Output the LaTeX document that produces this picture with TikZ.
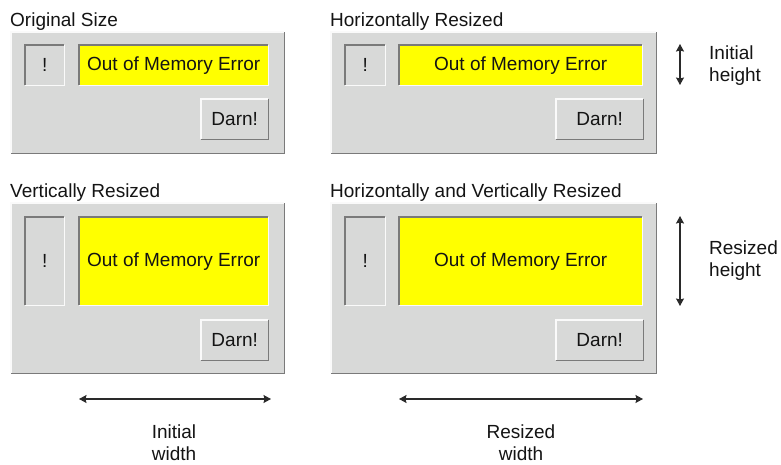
\documentclass[tikz,border=0pt]{standalone}
\usepackage{fontspec}
\setmainfont{Liberation Sans}
\usetikzlibrary{arrows.meta}
\definecolor{panelgray}{HTML}{D8D9D8}
\definecolor{bevdark}{HTML}{7A7A7A}
\definecolor{bevlight}{HTML}{FAFAFA}
\definecolor{txt}{HTML}{141414}
\definecolor{arrowc}{HTML}{2A2A2A}
\definecolor{msgyellow}{HTML}{FFFF00}
\newcommand\raisedbevel[1]{%
  \draw[bevlight,line width=1.2pt] (#1.south west) |- (#1.north east);
  \draw[bevdark,line width=1.6pt] (#1.north east) |- (#1.south west);}
\newcommand\sunkenbevel[1]{%
  \draw[bevlight,line width=1.2pt] (#1.north east) |- (#1.south west);
  \draw[bevdark,line width=1.6pt] (#1.south west) |- (#1.north east);}
\begin{document}
\begin{tikzpicture}[x=1pt,y=-1pt,
  every node/.style={font=\fontsize{19}{22}\selectfont,text=txt,inner sep=0pt},
  panelbox/.style={fill=panelgray,anchor=north west},
  bangbox/.style={fill=panelgray,anchor=north west},
  msgbox/.style={fill=msgyellow,anchor=north west},
  btnbox/.style={fill=panelgray,anchor=north west},
  titletext/.style={anchor=base west},
  dimarrow/.style={arrowc,line width=1.1pt,{Stealth[length=7.5pt,width=8pt,inset=1pt]}-{Stealth[length=7.5pt,width=8pt,inset=1pt]}},
  dimtext/.style={align=left,anchor=west},
  dimtextc/.style={align=center,anchor=north}]
\useasboundingbox[fill=white] (0,0) rectangle (781,464);

% ---------- Titles
\node[titletext] (t1) at (10,26) {Original Size};
\node[titletext] (t2) at (330,26) {Horizontally Resized};
\node[titletext] (t3) at (10,197) {Vertically Resized};
\node[titletext] (t4) at (330,197) {Horizontally and Vertically Resized};

% ---------- Panel 1: original
\node[panelbox,minimum width=273pt,minimum height=121pt] (p1) at (11,32) {};
\raisedbevel{p1}
\node[bangbox,minimum width=39pt,minimum height=40pt] (b1) at (25,45) {!};
\sunkenbevel{b1}
\node[msgbox,minimum width=189pt,minimum height=40pt] (m1) at (79,45) {Out of Memory Error};
\sunkenbevel{m1}
\node[btnbox,minimum width=67pt,minimum height=40pt] (d1) at (201,99) {Darn!};
\raisedbevel{d1}

% ---------- Panel 2: horizontally resized
\node[panelbox,minimum width=325pt,minimum height=121pt] (p2) at (331,32) {};
\raisedbevel{p2}
\node[bangbox,minimum width=40pt,minimum height=40pt] (b2) at (345,45) {!};
\sunkenbevel{b2}
\node[msgbox,minimum width=243pt,minimum height=40pt] (m2) at (399,45) {Out of Memory Error};
\sunkenbevel{m2}
\node[btnbox,minimum width=87pt,minimum height=40pt] (d2) at (556,99) {Darn!};
\raisedbevel{d2}

% ---------- Panel 3: vertically resized
\node[panelbox,minimum width=273pt,minimum height=170pt] (p3) at (11,203) {};
\raisedbevel{p3}
\node[bangbox,minimum width=39pt,minimum height=88pt] (b3) at (25,217) {!};
\sunkenbevel{b3}
\node[msgbox,minimum width=189pt,minimum height=88pt] (m3) at (79,217) {Out of Memory Error};
\sunkenbevel{m3}
\node[btnbox,minimum width=67pt,minimum height=40pt] (d3) at (201,320) {Darn!};
\raisedbevel{d3}

% ---------- Panel 4: both resized
\node[panelbox,minimum width=325pt,minimum height=170pt] (p4) at (331,203) {};
\raisedbevel{p4}
\node[bangbox,minimum width=40pt,minimum height=88pt] (b4) at (345,217) {!};
\sunkenbevel{b4}
\node[msgbox,minimum width=243pt,minimum height=88pt] (m4) at (399,217) {Out of Memory Error};
\sunkenbevel{m4}
\node[btnbox,minimum width=87pt,minimum height=40pt] (d4) at (556,320) {Darn!};
\raisedbevel{d4}

% ---------- Dimension arrows
\coordinate (ih1) at (680,44);
\coordinate (ih2) at (680,85);
\draw[dimarrow] (ih1) -- (ih2);
\node[dimtext] (iht) at (709,66) {Initial\\height};

\coordinate (rh1) at (680,216);
\coordinate (rh2) at (680,306);
\draw[dimarrow] (rh1) -- (rh2);
\node[dimtext] (rht) at (709,261) {Resized\\height};

\coordinate (iw1) at (79,399);
\coordinate (iw2) at (271,399);
\draw[dimarrow] (iw1) -- (iw2);
\node[dimtextc] (iwt) at (174,425) {Initial\\width};

\coordinate (rw1) at (399,399);
\coordinate (rw2) at (643,399);
\draw[dimarrow] (rw1) -- (rw2);
\node[dimtextc] (rwt) at (521,425) {Resized\\width};
\end{tikzpicture}
\end{document}
